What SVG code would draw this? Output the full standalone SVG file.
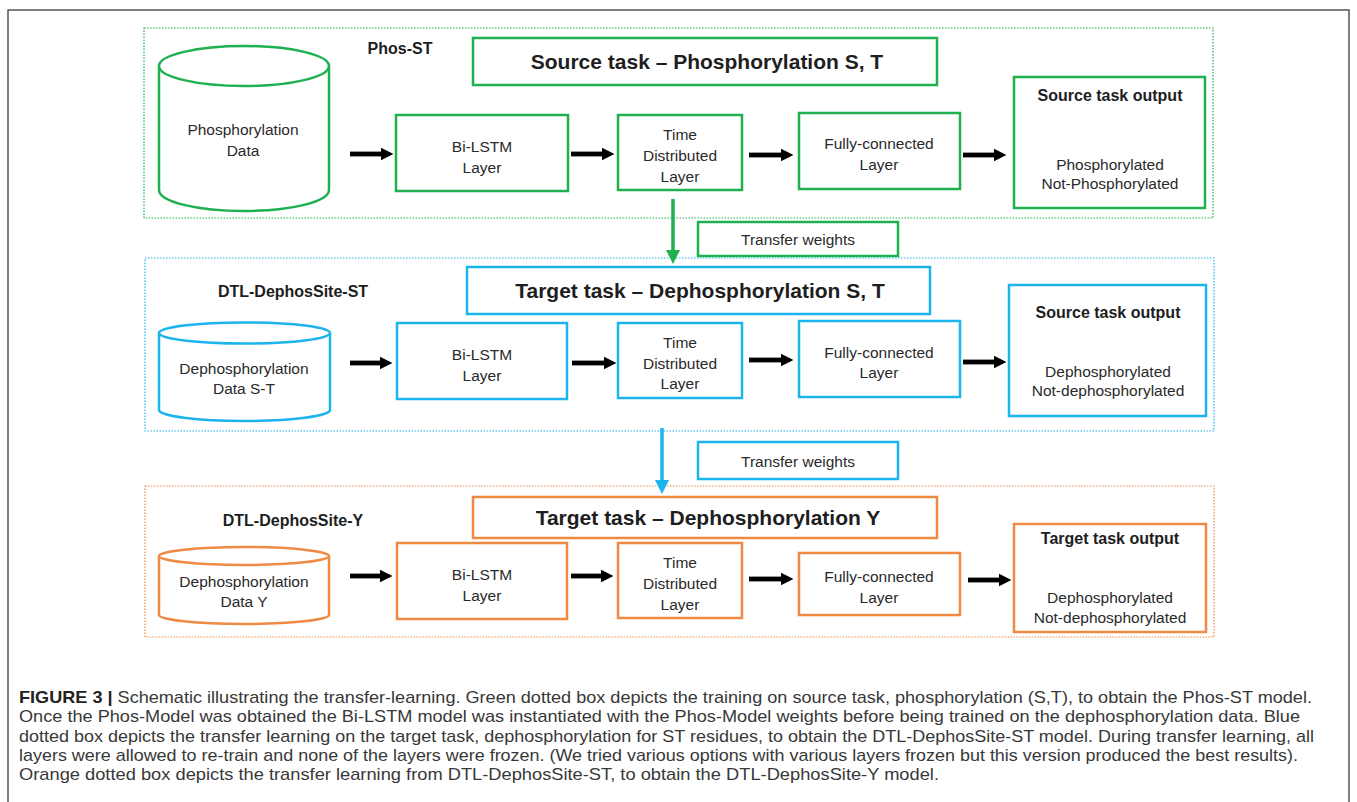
<svg xmlns="http://www.w3.org/2000/svg" width="1357" height="802" viewBox="0 0 1357 802">
<style>
text{font-family:"Liberation Sans",Arial,sans-serif;fill:#1e1e1e;text-anchor:middle}
.lbl{font-size:15.5px;fill:#2a2a2a}
.bold{font-weight:bold;font-size:16px}
.title{font-weight:bold;font-size:21px}
.g{stroke:#1fb050;fill:#fff;stroke-width:2.5}
.b{stroke:#1cb4ec;fill:#fff;stroke-width:2.5}
.o{stroke:#ee8a44;fill:#fff;stroke-width:2.5}
.gd{stroke:#1fb050;fill:none;stroke-width:1.2;stroke-dasharray:1.5 1.5}
.bd{stroke:#1cb4ec;fill:none;stroke-width:1.2;stroke-dasharray:1.5 1.5}
.od{stroke:#ee8a44;fill:none;stroke-width:1.2;stroke-dasharray:1.5 1.5}
.arr{stroke:#000;stroke-width:4.8;fill:none;marker-end:url(#ah)}
.cap{font-size:17px;fill:#383838;text-anchor:start}
</style>
<defs>
<marker id="ah" viewBox="0 0 10 10" refX="0" refY="5" markerWidth="2.6" markerHeight="3" orient="auto" markerUnits="strokeWidth"><path d="M0,0 L10,5 L0,10 z" fill="#000"/></marker>
<marker id="ahg" viewBox="0 0 10 10" refX="0" refY="5" markerWidth="5" markerHeight="4" orient="auto" markerUnits="strokeWidth"><path d="M0,0 L10,5 L0,10 z" fill="#1fb050"/></marker>
<marker id="ahb" viewBox="0 0 10 10" refX="0" refY="5" markerWidth="5" markerHeight="4" orient="auto" markerUnits="strokeWidth"><path d="M0,0 L10,5 L0,10 z" fill="#1cb4ec"/></marker>
</defs>
<rect width="1357" height="802" fill="#fff"/>
<rect x="8" y="10" width="1341" height="810" fill="none" stroke="#3a3a3a" stroke-width="1.3"/>

<!-- GREEN SECTION -->
<g id="phos-st-group">
<rect class="gd" x="144" y="28" width="1069" height="190"/>
<text class="bold" x="400" y="54">Phos-ST</text>
</g>
<g id="source-title"><rect class="g" x="473" y="38" width="464" height="47"/><text class="title" x="707" y="69">Source task – Phosphorylation S, T</text></g>
<g id="phos-data"><path class="g" d="M159,66 L159,190 A85,21 0 0 0 329,190 L329,66"/><ellipse class="g" cx="244" cy="66" rx="85" ry="20"/>
<text class="lbl" x="243" y="135">Phosphorylation</text><text class="lbl" x="243" y="156">Data</text></g>
<g id="g-bilstm"><rect class="g" x="396" y="115" width="172" height="76"/><text class="lbl" x="482" y="152">Bi-LSTM</text><text class="lbl" x="482" y="173">Layer</text></g>
<g id="g-td"><rect class="g" x="618" y="115" width="124" height="75"/><text class="lbl" x="680" y="140">Time</text><text class="lbl" x="680" y="161">Distributed</text><text class="lbl" x="680" y="182">Layer</text></g>
<g id="g-fc"><rect class="g" x="799" y="113" width="161" height="76"/><text class="lbl" x="879" y="149">Fully-connected</text><text class="lbl" x="879" y="170">Layer</text></g>
<g id="g-out"><rect class="g" x="1014" y="77" width="191" height="131"/><text class="bold" x="1110" y="101">Source task output</text><text class="lbl" x="1110" y="170">Phosphorylated</text><text class="lbl" x="1110" y="189">Not-Phosphorylated</text></g>
<g id="g-transfer"><rect class="g" x="698" y="222" width="200" height="34"/><text class="lbl" x="798" y="245">Transfer weights</text></g>

<!-- BLUE SECTION -->
<g id="dtl-st-group">
<rect class="bd" x="145" y="258" width="1069" height="173"/>
<text class="bold" x="293" y="297">DTL-DephosSite-ST</text>
</g>
<g id="target-st-title"><rect class="b" x="467" y="267" width="463" height="47"/><text class="title" x="700" y="298">Target task – Dephosphorylation S, T</text></g>
<g id="dephos-st-data"><path class="b" d="M159,333 L159,410 A85.5,11 0 0 0 330,410 L330,333"/><ellipse class="b" cx="244.5" cy="333" rx="85.5" ry="10.5"/>
<text class="lbl" x="244" y="374">Dephosphorylation</text><text class="lbl" x="244" y="394">Data S-T</text></g>
<g id="b-bilstm"><rect class="b" x="397" y="323" width="170" height="76"/><text class="lbl" x="482" y="360">Bi-LSTM</text><text class="lbl" x="482" y="381">Layer</text></g>
<g id="b-td"><rect class="b" x="618" y="323" width="124" height="75"/><text class="lbl" x="680" y="348">Time</text><text class="lbl" x="680" y="369">Distributed</text><text class="lbl" x="680" y="389">Layer</text></g>
<g id="b-fc"><rect class="b" x="799" y="321" width="161" height="76"/><text class="lbl" x="879" y="358">Fully-connected</text><text class="lbl" x="879" y="378">Layer</text></g>
<g id="b-out"><rect class="b" x="1009" y="285" width="197" height="131"/><text class="bold" x="1108" y="318">Source task output</text><text class="lbl" x="1108" y="377">Dephosphorylated</text><text class="lbl" x="1108" y="396">Not-dephosphorylated</text></g>
<g id="b-transfer"><rect class="b" x="698" y="442" width="200" height="37"/><text class="lbl" x="798" y="467">Transfer weights</text></g>

<!-- ORANGE SECTION -->
<g id="dtl-y-group">
<rect class="od" x="145" y="486" width="1069" height="151"/>
<text class="bold" x="293" y="526">DTL-DephosSite-Y</text>
</g>
<g id="target-y-title"><rect class="o" x="473" y="497" width="464" height="41"/><text class="title" x="708" y="525">Target task – Dephosphorylation Y</text></g>
<g id="dephos-y-data"><path class="o" d="M159,556 L159,615 A85,9 0 0 0 329,615 L329,556"/><ellipse class="o" cx="244" cy="556" rx="85" ry="9"/>
<text class="lbl" x="244" y="587">Dephosphorylation</text><text class="lbl" x="244" y="607">Data Y</text></g>
<g id="o-bilstm"><rect class="o" x="397" y="543" width="170" height="76"/><text class="lbl" x="482" y="580">Bi-LSTM</text><text class="lbl" x="482" y="601">Layer</text></g>
<g id="o-td"><rect class="o" x="618" y="543" width="124" height="75"/><text class="lbl" x="680" y="568">Time</text><text class="lbl" x="680" y="589">Distributed</text><text class="lbl" x="680" y="610">Layer</text></g>
<g id="o-fc"><rect class="o" x="799" y="553" width="161" height="62"/><text class="lbl" x="879" y="582">Fully-connected</text><text class="lbl" x="879" y="603">Layer</text></g>
<g id="o-out"><rect class="o" x="1014" y="524" width="192" height="108"/><text class="bold" x="1110" y="544">Target task output</text><text class="lbl" x="1110" y="603">Dephosphorylated</text><text class="lbl" x="1110" y="623">Not-dephosphorylated</text></g>

<!-- CONNECTORS -->
<g id="connectors">
<line class="arr" x1="350" y1="154" x2="381" y2="154"/>
<line class="arr" x1="571" y1="154" x2="602" y2="154"/>
<line class="arr" x1="749" y1="155" x2="781" y2="155"/>
<line class="arr" x1="963" y1="155" x2="994" y2="155"/>
<line class="arr" x1="350" y1="363" x2="380" y2="363"/>
<line class="arr" x1="572" y1="363" x2="604" y2="363"/>
<line class="arr" x1="749" y1="360" x2="781" y2="360"/>
<line class="arr" x1="963" y1="362" x2="994" y2="362"/>
<line class="arr" x1="350" y1="576" x2="380" y2="576"/>
<line class="arr" x1="571" y1="576" x2="601" y2="576"/>
<line class="arr" x1="749" y1="579" x2="781" y2="579"/>
<line class="arr" x1="968" y1="580" x2="999" y2="580"/>
<line x1="673" y1="199" x2="673" y2="250" stroke="#1fb050" stroke-width="3.5" marker-end="url(#ahg)"/>
<line x1="662" y1="428" x2="662" y2="480" stroke="#1cb4ec" stroke-width="3.5" marker-end="url(#ahb)"/>
</g>

<!-- CAPTION -->
<g id="caption">
<text class="cap" x="19" y="703" textLength="1293" lengthAdjust="spacingAndGlyphs"><tspan font-weight="bold" fill="#222">FIGURE 3 |</tspan> Schematic illustrating the transfer-learning. Green dotted box depicts the training on source task, phosphorylation (S,T), to obtain the Phos-ST model.</text>
<text class="cap" x="19" y="722" textLength="1281" lengthAdjust="spacingAndGlyphs">Once the Phos-Model was obtained the Bi-LSTM model was instantiated with the Phos-Model weights before being trained on the dephosphorylation data. Blue</text>
<text class="cap" x="19" y="742" textLength="1295" lengthAdjust="spacingAndGlyphs">dotted box depicts the transfer learning on the target task, dephosphorylation for ST residues, to obtain the DTL-DephosSite-ST model. During transfer learning, all</text>
<text class="cap" x="19" y="761" textLength="1279" lengthAdjust="spacingAndGlyphs">layers were allowed to re-train and none of the layers were frozen. (We tried various options with various layers frozen but this version produced the best results).</text>
<text class="cap" x="19" y="780" textLength="920" lengthAdjust="spacingAndGlyphs">Orange dotted box depicts the transfer learning from DTL-DephosSite-ST, to obtain the DTL-DephosSite-Y model.</text>
</g>
</svg>
